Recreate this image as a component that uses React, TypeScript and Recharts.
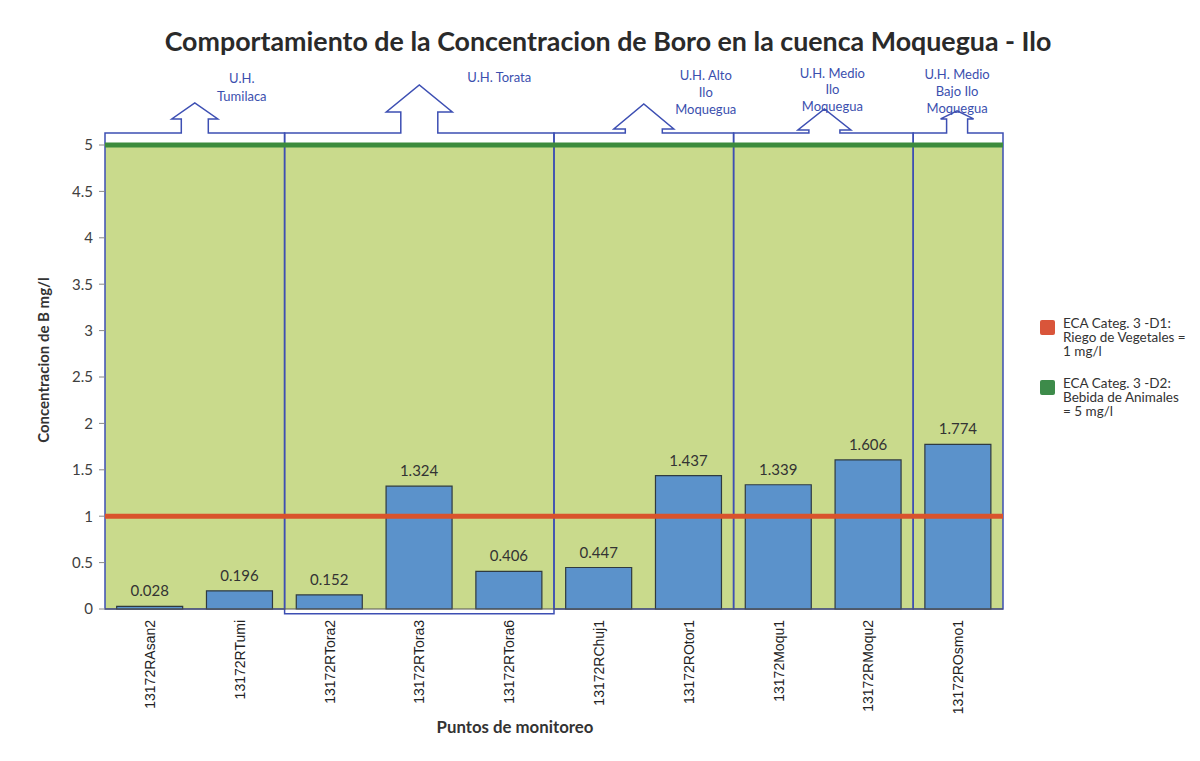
import React from 'react';
import { BarChart, Bar, XAxis, YAxis, CartesianGrid, ReferenceLine, ReferenceArea, LabelList } from 'recharts';

const puntos = ['13172RAsan2', '13172RTumi', '13172RTora2', '13172RTora3', '13172RTora6', '13172RChuj1', '13172ROtor1', '13172Moqu1', '13172RMoqu2', '13172ROsmo1'];
const boro = [0.028, 0.196, 0.152, 1.324, 0.406, 0.447, 1.437, 1.339, 1.606, 1.774];
const yTicks = [0, 0.5, 1, 1.5, 2, 2.5, 3, 3.5, 4, 4.5, 5];
const ecaD1 = 1;
const ecaD2 = 5;

// unidades hidrograficas (first / last monitoring point of each one)
const unidadNombres = [['U.H.', 'Tumilaca'], ['U.H. Torata'], ['U.H. Alto', 'Ilo', 'Moquegua'], ['U.H. Medio', 'Ilo', 'Moquegua'], ['U.H. Medio', 'Bajo Ilo', 'Moquegua']];
const unidadDesde = [0, 2, 5, 7, 9];
const unidadHasta = [1, 4, 6, 8, 9];

// drawing of the arrow callouts (px), same order as unidades
const flechas = [
    { sw: 13.5, hw: 23, shaft: 14, tip: 30, dx: 0, tx: 47, ty: [-55, -37] },
    { sw: 18.5, hw: 33, shaft: 21, tip: 48, dx: 0, tx: 80, ty: [-56] },
    { sw: 18.5, hw: 30, shaft: 4, tip: 29, dx: 0, tx: 62, ty: [-58, -41, -24] },
    { sw: 15.5, hw: 26.5, shaft: 3, tip: 24, dx: 1, tx: 8, ty: [-60, -44, -27] },
    { sw: 10.5, hw: 16.5, shaft: 14, tip: 22, dx: -1, tx: 0, ty: [-59, -42, -25] },
];
const bajoEje = [0, -0.05, 0, 0, 0];

const data = puntos.map((p, i) => ({ punto: p, boro: boro[i] }));

const BLUE_LINE = '#3d4fb3';

const CalloutBox = (props: any) => {
    const { x, y, width, height, f, lines } = props;
    const cx = x + width / 2 + f.dx;
    const top = y;
    const d = [
        `M${x},${top + height}`,
        `L${x},${top}`,
        `L${cx - f.sw},${top}`,
        `L${cx - f.sw},${top - f.shaft}`,
        `L${cx - f.hw},${top - f.shaft}`,
        `L${cx},${top - f.tip}`,
        `L${cx + f.hw},${top - f.shaft}`,
        `L${cx + f.sw},${top - f.shaft}`,
        `L${cx + f.sw},${top}`,
        `L${x + width},${top}`,
        `L${x + width},${top + height}`,
        'Z',
    ].join(' ');
    return (
        <g>
            <path d={d} fill="none" stroke={BLUE_LINE} strokeWidth={1.5} />
            {lines.map((t: string, i: number) => (
                <text key={i} x={cx + f.tx} y={top + f.ty[i]} textAnchor="middle" dominantBaseline="central"
                    fontFamily="Lato, 'Open Sans', sans-serif" fontSize={13} fill="#3b4fae">{t}</text>
            ))}
        </g>
    );
};

const CatTick = (props: any) => {
    const { x, y, payload } = props;
    return (
        <text x={0} y={0} transform={`translate(${x + 5},${y + 3}) rotate(-90)`} textAnchor="end"
            fontFamily="'Liberation Sans', Arial, sans-serif" fontSize={14} fill="#222">{payload.value}</text>
    );
};

export default function App() {
    return (
        <div style={{ position: 'absolute', left: 0, top: 0, width: 1200, height: 761, background: '#fff', fontFamily: 'Lato, sans-serif' }}>
            <div style={{ position: 'absolute', left: 0, width: 1216, top: 25, textAlign: 'center', fontSize: 26.8, fontWeight: 700, color: '#2a2a2a' }}>
                Comportamiento de la Concentracion de Boro en la cuenca Moquegua - Ilo
            </div>
            <div style={{ position: 'absolute', left: 43, top: 360, width: 0, height: 0 }}>
                <div style={{ position: 'absolute', transform: 'translate(-50%, -50%) rotate(-90deg)', whiteSpace: 'nowrap', fontSize: 15, fontWeight: 700, color: '#333' }}>
                    Concentracion de B mg/l
                </div>
            </div>
            <div style={{ position: 'absolute', left: 0, width: 1030, top: 716, textAlign: 'center', fontSize: 16.8, fontWeight: 700, color: '#333' }}>
                Puntos de monitoreo
            </div>
            <BarChart width={1200} height={761} data={data} margin={{ top: 145, right: 197, left: 45, bottom: 42 }} barCategoryGap="13%">
                <CartesianGrid horizontal={false} vertical={false} fill="#c9da8c" />
                <XAxis dataKey="punto" height={110} interval={0} tick={<CatTick />} tickLine={false} axisLine={{ stroke: '#555' }} />
                <YAxis width={60} domain={[0, 5]} ticks={yTicks} tickSize={6} tickMargin={6} interval={0}
                    axisLine={false} tickLine={{ stroke: '#888' }}
                    tick={{ fontFamily: 'Lato, sans-serif', fontSize: 15, fill: '#404040' }} />
                {unidadNombres.map((lines, i) => (
                    <ReferenceArea key={i} x1={puntos[unidadDesde[i]]} x2={puntos[unidadHasta[i]]} y1={bajoEje[i]} y2={5.13}
                        ifOverflow="visible" shape={(p: any) => <CalloutBox {...p} f={flechas[i]} lines={lines} />} />
                ))}
                <Bar dataKey="boro" fill="#5b92cb" stroke="#2f3a40" strokeWidth={1.2} isAnimationActive={false}>
                    <LabelList dataKey="boro" position="top" offset={10} formatter={(v: any) => Number(v).toFixed(3)}
                        style={{ fontFamily: 'Lato, sans-serif', fontSize: 15, fill: '#333' }} />
                </Bar>
                <ReferenceLine y={ecaD1} stroke="#d9532c" strokeWidth={5} ifOverflow="visible" />
                <ReferenceLine y={ecaD2} stroke="#3d8b3d" strokeWidth={5} ifOverflow="visible" />
            </BarChart>
            <div style={{ position: 'absolute', left: 1040, top: 316, fontSize: 13.5, color: '#333', lineHeight: '14px' }}>
                <div style={{ position: 'relative', paddingLeft: 23 }}>
                    <span style={{ position: 'absolute', left: 0, top: 4, width: 15, height: 15, borderRadius: 2, background: '#d9553a' }} />
                    ECA Categ. 3 -D1:<br />Riego de Vegetales =<br />1 mg/l
                </div>
                <div style={{ position: 'relative', paddingLeft: 23, marginTop: 18 }}>
                    <span style={{ position: 'absolute', left: 0, top: 4, width: 15, height: 15, borderRadius: 2, background: '#3d8b4a' }} />
                    ECA Categ. 3 -D2:<br />Bebida de Animales<br />= 5 mg/l
                </div>
            </div>
        </div>
    );
}
